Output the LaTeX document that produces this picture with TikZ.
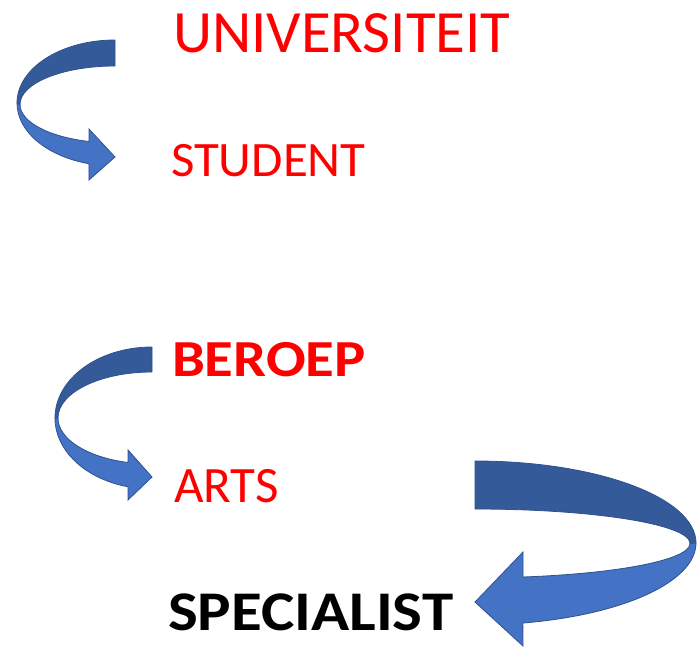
\documentclass[tikz,border=0pt]{standalone}
\usepackage{fontspec}
\setmainfont{Carlito}
\definecolor{txtred}{RGB}{255,0,0}
\definecolor{arrlight}{RGB}{68,114,196}
\definecolor{arrdark}{RGB}{52,90,154}
\definecolor{arrline}{RGB}{47,82,143}
\tikzset{
  lbl/.style={anchor=base west, inner sep=0pt, outer sep=0pt},
  backband/.style={fill=arrdark, draw=arrline, line width=0.8pt, line join=round},
  frontband/.style={fill=arrlight, draw=arrline, line width=0.8pt, line join=miter},
}
\begin{document}
\begin{tikzpicture}[x=1pt,y=-1pt]
\useasboundingbox (0,0) rectangle (697,648);
% texts
\node[lbl, text=txtred] (univ) at (173,52) {\scalebox{1.013}[1]{\fontsize{60}{70}\selectfont UNIVERSITEIT}};
\node[lbl, text=txtred] (stud) at (171,176) {\scalebox{1.03}[1]{\fontsize{49.5}{60}\selectfont STUDENT}};
\node[lbl, text=txtred] (beroep) at (172,376) {\scalebox{1.13}[1]{\fontsize{52}{62}\selectfont\bfseries BEROEP}};
\node[lbl, text=txtred] (arts) at (174,502) {\fontsize{51}{60}\selectfont ARTS};
\node[lbl, text=black] (spec) at (168,630) {\scalebox{1.125}[1]{\fontsize{56}{66}\selectfont\bfseries SPECIALIST}};
% arrow 1
\filldraw[backband] (115,40) arc[start angle=270,end angle=180,x radius=98,y radius=63]
  -- (20,104.5) arc[start angle=180,end angle=270,x radius=95,y radius=38.5] -- cycle;
\filldraw[frontband] (17,103) arc[start angle=180,end angle=105.4,x radius=98,y radius=63]
  -- (89,180) -- (115,157) -- (89,129) -- (89,141.5)
  arc[start angle=105.9,end angle=180,x radius=95,y radius=38.5] -- cycle;
% arrow 2
\filldraw[backband] (152,347) arc[start angle=270,end angle=180,x radius=97,y radius=71]
  -- (58,418) arc[start angle=180,end angle=270,x radius=94,y radius=46] -- cycle;
\filldraw[frontband] (55,418) arc[start angle=180,end angle=104.3,x radius=97,y radius=71]
  -- (128,500) -- (152,477) -- (128,450) -- (128,462.5)
  arc[start angle=104.8,end angle=180,x radius=94,y radius=46] -- cycle;
% arrow 3
\filldraw[backband] (475,461) arc[start angle=-90,end angle=0,x radius=221,y radius=82]
  -- (690,543.4) arc[start angle=0,end angle=-90,x radius=215,y radius=34.4] -- cycle;
\filldraw[frontband] (696,543) arc[start angle=0,end angle=77.5,x radius=221,y radius=82]
  -- (523,646) -- (475,602) -- (523,552) -- (523,577)
  arc[start angle=77.1,end angle=0,x radius=215,y radius=34.4] -- cycle;
\end{tikzpicture}
\end{document}
